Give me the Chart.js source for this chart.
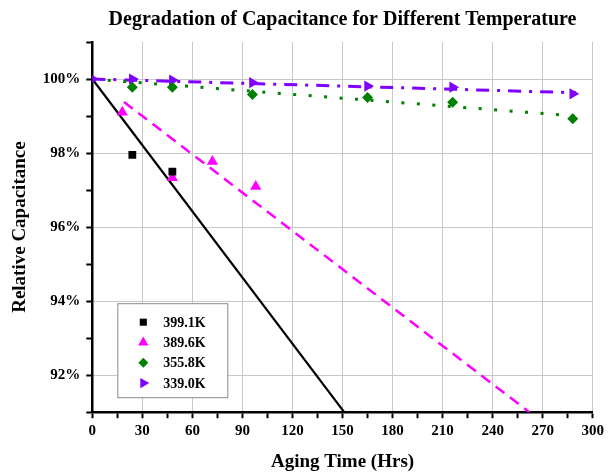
<!DOCTYPE html>
<html>
<head>
<meta charset="utf-8">
<script src="https://cdn.jsdelivr.net/npm/chart.js"></script>
<style>
  body { margin: 0; background: #fff; }
</style>
</head>
<body>
<canvas id="degradationChart" width="608" height="473"></canvas>
<script>
// measured points (hours, % of initial capacitance)
const t399 = [24, 48];
const c399 = [97.95, 97.5];
const t389 = [18, 48, 72, 98];
const c389 = [99.1, 97.33, 97.77, 97.1];
const t355 = [24, 48, 96, 165, 216, 288];
const c355 = [99.78, 99.78, 99.58, 99.5, 99.37, 98.93];
const t339 = [0, 24, 48, 96, 165, 216, 288];
const c339 = [100, 100, 99.97, 99.9, 99.81, 99.78, 99.6];

// linear fits, start and end of each drawn line
const fit399x = [0, 151];
const fit399y = [100, 91];
const fit389x = [19, 262];
const fit389y = [99.38, 91];
const fit355x = [0, 290];
const fit355y = [100, 99.0];
const fit339x = [0, 290];
const fit339y = [100, 99.63];

const xTicks = [0, 30, 60, 90, 120, 150, 180, 210, 240, 270, 300];
const yTicks = [92, 94, 96, 98, 100];

const serif = "'Liberation Serif', 'Times New Roman', serif";
Chart.defaults.font.family = serif;
Chart.defaults.color = '#000';

function pts(xs, ys) {
  return xs.map((x, i) => ({ x: x, y: ys[i] }));
}

const markers = [
  { label: '399.1K', color: '#000000', style: 'rect', rot: 0, r: 5.5, xs: t399, ys: c399 },
  { label: '389.6K', color: '#ff00ff', style: 'triangle', rot: 0, r: 6.5, xs: t389, ys: c389 },
  { label: '355.8K', color: '#008000', style: 'rectRot', rot: 0, r: 5.5, xs: t355, ys: c355 },
  { label: '339.0K', color: '#8000ff', style: 'triangle', rot: 90, r: 6.5, xs: t339, ys: c339 }
];

const datasets = markers.map(m => ({
  label: m.label,
  data: pts(m.xs, m.ys),
  pointStyle: m.style,
  rotation: m.rot,
  pointRadius: m.r,
  backgroundColor: m.color,
  borderColor: m.color,
  borderWidth: 0,
  showLine: false
}));

datasets.push(
  { label: 'fit399', data: pts(fit399x, fit399y), showLine: true, pointRadius: 0,
    borderColor: '#000000', borderWidth: 2.2 },
  { label: 'fit389', data: pts(fit389x, fit389y), showLine: true, pointRadius: 0,
    borderColor: '#ff00ff', borderWidth: 2.5, borderDash: [11, 7] },
  { label: 'fit355', data: pts(fit355x, fit355y), showLine: true, pointRadius: 0,
    borderColor: '#008000', borderWidth: 3, borderDash: [3, 12.5] },
  { label: 'fit339', data: pts(fit339x, fit339y), showLine: true, pointRadius: 0,
    borderColor: '#8000ff', borderWidth: 3, borderDash: [13, 8, 3, 8] }
);

// legend drawn inside the plot, lower left
const legendBox = {
  id: 'legendBox',
  afterDatasetsDraw(chart) {
    const { ctx, chartArea } = chart;
    const x0 = chartArea.left + 25;
    const y0 = chartArea.bottom - 109;
    ctx.save();
    ctx.fillStyle = '#fff';
    ctx.fillRect(x0, y0, 110, 94);
    ctx.strokeStyle = '#8a8a8a';
    ctx.lineWidth = 1;
    ctx.strokeRect(x0 + 0.5, y0 + 0.5, 110, 94);
    ctx.font = 'bold 14px ' + serif;
    ctx.textBaseline = 'middle';
    markers.forEach((m, i) => {
      const y = y0 + 19 + i * 20.3;
      ctx.fillStyle = m.color;
      ctx.strokeStyle = m.color;
      ctx.lineWidth = 0;
      Chart.helpers.drawPoint(ctx, { pointStyle: m.style, rotation: m.rot, radius: m.r - 0.5, borderWidth: 0 }, x0 + 26, y);
      ctx.fillStyle = '#000';
      ctx.fillText(m.label, x0 + 46, y + 1);
    });
    ctx.restore();
  }
};

new Chart(document.getElementById('degradationChart'), {
  type: 'scatter',
  data: { datasets: datasets },
  plugins: [legendBox],
  options: {
    responsive: false,
    animation: false,
    layout: { padding: { left: 9, right: 2, top: 0, bottom: 0 } },
    plugins: {
      legend: { display: false },
      tooltip: { enabled: false },
      title: {
        display: true,
        text: 'Degradation of Capacitance for Different Temperature',
        fullSize: false,
        font: { size: 20, weight: 'bold' },
        color: '#000',
        padding: { top: 8, bottom: 10 }
      }
    },
    scales: {
      x: {
        type: 'linear',
        min: 0,
        max: 300,
        ticks: {
          stepSize: 15,
          autoSkip: false,
          maxRotation: 0,
          padding: 4,
          font: { size: 15, weight: 'bold' },
          color: '#000',
          callback: v => xTicks.includes(v) ? String(v) : ''
        },
        grid: {
          color: c => xTicks.includes(c.tick.value) ? '#c8c8c8' : 'rgba(0,0,0,0)',
          lineWidth: 1,
          tickColor: '#000',
          tickWidth: 2,
          tickLength: 6
        },
        border: { color: '#000', width: 2.5 },
        title: {
          display: true,
          text: 'Aging Time (Hrs)',
          font: { size: 19, weight: 'bold' },
          color: '#000',
          padding: { top: 6, bottom: 0 }
        }
      },
      y: {
        min: 91,
        max: 101,
        ticks: {
          stepSize: 1,
          autoSkip: false,
          padding: 6,
          font: { size: 15, weight: 'bold' },
          color: '#000',
          callback: v => yTicks.includes(Math.round(v)) ? Math.round(v) + '%' : ''
        },
        grid: {
          color: c => yTicks.includes(Math.round(c.tick.value)) ? '#c8c8c8' : 'rgba(0,0,0,0)',
          lineWidth: 1,
          tickColor: '#000',
          tickWidth: 2,
          tickLength: 6
        },
        border: { color: '#000', width: 2.5 },
        title: {
          display: true,
          text: 'Relative Capacitance',
          font: { size: 19, weight: 'bold' },
          color: '#000',
          padding: { top: 0, bottom: 5 }
        }
      }
    }
  }
});
</script>
</body>
</html>
